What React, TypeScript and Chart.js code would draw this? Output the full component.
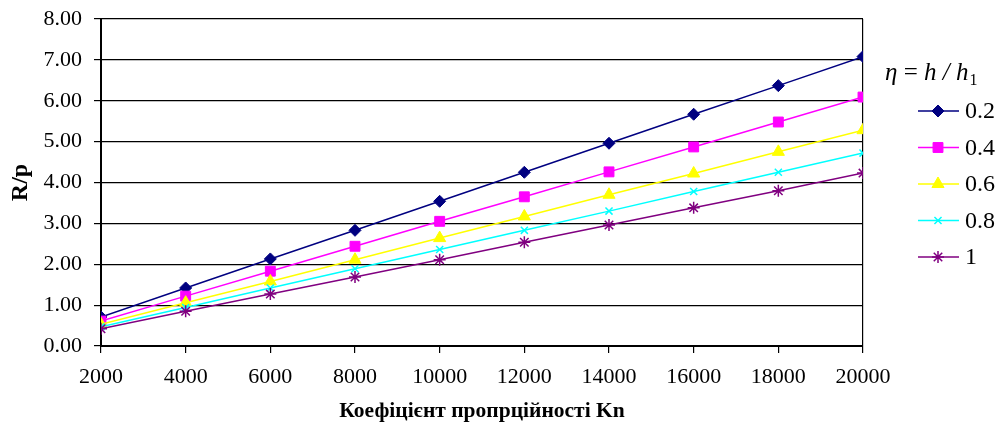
import React, { useEffect, useRef } from "react";
import { Chart, registerables } from "chart.js";

Chart.register(...registerables);

const kn = [2000, 4000, 6000, 8000, 10000, 12000, 14000, 16000, 18000, 20000];
const eta02 = [0.71, 1.42, 2.13, 2.83, 3.54, 4.25, 4.96, 5.67, 6.37, 7.08];
const eta04 = [0.61, 1.22, 1.83, 2.44, 3.05, 3.65, 4.26, 4.87, 5.48, 6.09];
const eta06 = [0.53, 1.06, 1.58, 2.11, 2.64, 3.17, 3.70, 4.22, 4.75, 5.28];
const eta08 = [0.47, 0.94, 1.42, 1.89, 2.36, 2.83, 3.30, 3.78, 4.25, 4.72];
const eta10 = [0.42, 0.85, 1.27, 1.69, 2.11, 2.54, 2.96, 3.38, 3.80, 4.23];
const seriesLabels = ["0.2", "0.4", "0.6", "0.8", "1"];
const yTicks = [0, 1, 2, 3, 4, 5, 6, 7, 8];

const colors = ["#000080", "#FF00FF", "#FFFF00", "#00FFFF", "#800080"];
const shapes = ["rectRot", "rect", "triangle", "crossRot", "star"];
const radii = [6, 7, 7, 5, 6];

const SERIF = "'Liberation Serif', 'Times New Roman', serif";

const legendPlugin = {
  id: "customLegend",
  afterDraw(chart: any) {
    const ctx = chart.ctx as CanvasRenderingContext2D;
    ctx.save();
    ctx.fillStyle = "#000";
    ctx.textBaseline = "middle";
    ctx.textAlign = "left";
    const ty = 73;
    let x = 885;
    const parts: [string, string][] = [
      ["η", "italic 25px"],
      [" = ", "25px"],
      ["h", "italic 25px"],
      [" / ", "italic 25px"],
      ["h", "italic 25px"],
    ];
    for (const [t, f] of parts) {
      ctx.font = `${f} ${SERIF}`;
      ctx.fillText(t, x, ty);
      x += ctx.measureText(t).width;
    }
    ctx.font = `16px ${SERIF}`;
    ctx.fillText("1", x + 1, ty + 8);

    const rowY0 = 111;
    const rowGap = 36.5;
    chart.data.datasets.forEach((ds: any, i: number) => {
      const y = rowY0 + i * rowGap;
      ctx.strokeStyle = ds.borderColor;
      ctx.lineWidth = ds.borderWidth;
      ctx.beginPath();
      ctx.moveTo(918, y);
      ctx.lineTo(959, y);
      ctx.stroke();
      const meta = chart.getDatasetMeta(i);
      const el = meta.data[0];
      if (el) {
        const saveX = el.x;
        const saveY = el.y;
        el.x = 938;
        el.y = y;
        el.draw(ctx);
        el.x = saveX;
        el.y = saveY;
      }
      ctx.fillStyle = "#000";
      ctx.font = `24px ${SERIF}`;
      ctx.textAlign = "left";
      ctx.textBaseline = "middle";
      ctx.fillText(ds.label, 965, y + 1);
    });
    ctx.restore();
  },
};

export default function App() {
  const ref = useRef<HTMLCanvasElement | null>(null);
  useEffect(() => {
    document.body.style.margin = "0";
    const series = [eta02, eta04, eta06, eta08, eta10];
    const chart = new Chart(ref.current as HTMLCanvasElement, {
      type: "line",
      data: {
        datasets: series.map((vals, i) => ({
          label: seriesLabels[i],
          data: kn.map((k, j) => ({ x: k, y: vals[j] })),
          borderColor: colors[i],
          backgroundColor: colors[i],
          pointBorderColor: colors[i],
          pointBackgroundColor: colors[i],
          pointStyle: shapes[i] as any,
          pointRadius: radii[i],
          pointBorderWidth: i >= 3 ? 1.5 : 1,
          borderWidth: 1.5,
          fill: false,
          tension: 0,
          order: 4 - i,
        })),
      },
      options: {
        animation: false,
        responsive: false,
        maintainAspectRatio: false,
        events: [],
        layout: { padding: { top: 19, right: 135, left: 0, bottom: 0 } },
        plugins: {
          legend: { display: false },
          tooltip: { enabled: false },
          title: { display: false },
        },
        scales: {
          x: {
            type: "linear",
            min: 2000,
            max: 20000,
            afterFit: (s: any) => {
              s.height = 81;
              s.paddingLeft = 0;
              s.paddingRight = 0;
            },
            afterBuildTicks: (s: any) => {
              s.ticks = kn.map((v) => ({ value: v }));
            },
            ticks: {
              stepSize: 2000,
              color: "#000",
              font: { family: SERIF, size: 22 },
              padding: 11,
              maxRotation: 0,
              autoSkip: false,
              callback: (v: any) => String(v),
            },
            grid: {
              drawOnChartArea: true,
              color: (c: any) => (c.index === kn.length - 1 ? "#000" : "rgba(0,0,0,0)"),
              tickColor: "#000",
              tickLength: 7,
              lineWidth: 1.2,
            },
            border: { display: true, color: "#000", width: 2 },
            title: {
              display: true,
              text: "Коефіцієнт пропрційності Kn",
              color: "#000",
              font: { family: SERIF, size: 21.5, weight: "bold" },
              padding: { top: 0, bottom: 3 },
            },
          },
          y: {
            type: "linear",
            min: 0,
            max: 8,
            afterFit: (s: any) => {
              s.width = 101;
              s.paddingTop = 0;
              s.paddingBottom = 0;
            },
            afterBuildTicks: (s: any) => {
              s.ticks = yTicks.map((v) => ({ value: v }));
            },
            ticks: {
              stepSize: 1,
              color: "#000",
              font: { family: SERIF, size: 22 },
              padding: 12,
              callback: (v: any) => Number(v).toFixed(2),
            },
            grid: {
              color: "#000",
              tickColor: "#000",
              tickLength: 7,
              lineWidth: 1.2,
            },
            border: { display: true, color: "#000", width: 2 },
            title: {
              display: true,
              text: "R/p",
              color: "#000",
              font: { family: SERIF, size: 24, weight: "bold" },
              padding: { top: 6, bottom: 0 },
            },
          },
        },
      } as any,
      plugins: [legendPlugin],
    });
    return () => chart.destroy();
  }, []);
  return (
    <div style={{ position: "absolute", left: 0, top: 0, width: 998, height: 427, background: "#fff" }}>
      <canvas ref={ref} width={998} height={427} style={{ display: "block" }} />
    </div>
  );
}
